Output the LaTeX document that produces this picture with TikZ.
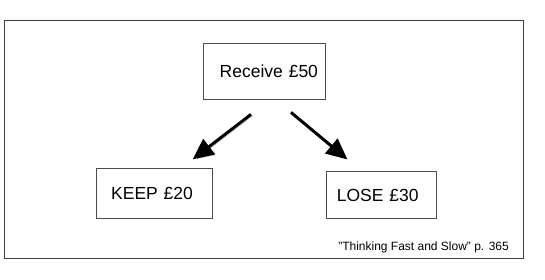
\documentclass[tikz,border=0pt]{standalone}
\usepackage{fontspec}
\setmainfont{Liberation Sans}
\usetikzlibrary{arrows.meta,positioning,calc}
\tikzset{
  dec/box/.style={draw=black!70, line width=0.8pt, minimum height=50pt, align=left, font=\fontsize{17.5}{20}\selectfont},
  dec/arrow/.style={-{Triangle[length=21pt,width=19pt]}, line width=3pt, black,
    preaction={draw=black!30, transform canvas={shift={(1.5pt,-1.5pt)}}}},
  dec/frame/.style={draw=black!75, line width=1pt},
  dec/note/.style={font=\fontsize{12}{14}\selectfont, inner sep=0pt}
}

\begin{document}
\begin{tikzpicture}[x=1pt, y=-1pt]
  \useasboundingbox (0,0) rectangle (545,280);
  \draw[dec/frame] (4,21) rectangle (523,258);

  \node[dec/box, minimum height=56pt, inner xsep=7pt, text width=108pt, align=right] (receive) at (264,71) {Receive £50};
  \node[dec/box, inner xsep=15pt, text width=86pt, below left=69pt and -10pt of receive] (keep) {KEEP £20};
  \node[dec/box, minimum height=47pt, inner xsep=10pt, text width=90pt, below right=72pt and 1pt of receive] (lose) {LOSE £30};

  \coordinate[below left=15pt and 13pt of receive.south] (keepstart);
  \coordinate[below right=13pt and 27pt of receive.south] (losestart);
  \coordinate[above left=9pt and 20pt of keep.north east] (keepend);
  \coordinate[above right=12pt and 21pt of lose.north west] (loseend);

  \draw[dec/arrow] (keepstart) -- (keepend);
  \draw[dec/arrow] (losestart) -- (loseend);

  \node[dec/note, anchor=east] (source) at (509,247) {"Thinking Fast and Slow" p. 365};
\end{tikzpicture}
\end{document}
